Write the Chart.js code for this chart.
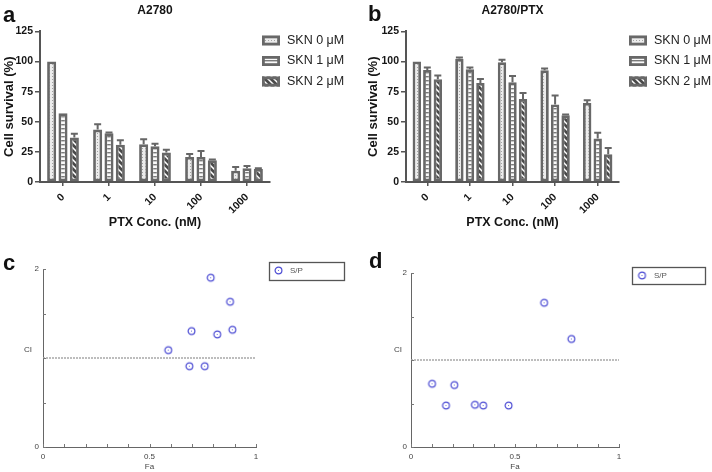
<!DOCTYPE html>
<html>
<head>
<meta charset="utf-8">
<script src="https://cdn.jsdelivr.net/npm/chart.js@4.4.1/dist/chart.umd.min.js"></script>
<style>
  body { margin: 0; background: #fff; width: 712px; height: 472px; position: relative; overflow: hidden;
         font-family: 'Liberation Sans', Arial, sans-serif; }
  canvas { position: absolute; }
  .tag { position: absolute; font-weight: bold; font-size: 22px; line-height: 22px; color: #111; }
  .ci { position: absolute; font-size: 8px; color: #444; transform: translate(-50%, -50%); }
</style>
</head>
<body>
<canvas id="ca" width="356" height="230" style="left:0;top:0"></canvas>
<canvas id="cb" width="356" height="230" style="left:356px;top:0"></canvas>
<canvas id="cc" width="356" height="242" style="left:0;top:230px"></canvas>
<canvas id="cd" width="356" height="242" style="left:356px;top:230px"></canvas>
<div class="tag" style="left:3px;top:4px">a</div>
<div class="tag" style="left:368px;top:3px">b</div>
<div class="tag" style="left:3px;top:252px">c</div>
<div class="tag" style="left:369px;top:250px">d</div>
<div class="ci" style="left:28px;top:349px">CI</div>
<div class="ci" style="left:398px;top:349px">CI</div>
<script>
// PTX concentrations (nM) and SKN doses
const conc = ['0', '1', '10', '100', '1000'];
const sknLabels = ['SKN 0 \u03bcM', 'SKN 1 \u03bcM', 'SKN 2 \u03bcM'];

// A2780 cell survival (%) and error (SD)
const a_skn0 = [100, 43.5, 31.4, 20.8, 9.4];
const a_skn1 = [57, 40.5, 29.7, 20.8, 11.4];
const a_skn2 = [37, 31, 24.4, 18, 10.8];
const a_err0 = [0, 4.4, 4.1, 2.5, 3.1];
const a_err1 = [0, 0.6, 2.0, 5.0, 1.9];
const a_err2 = [3, 3.7, 2.3, 0.6, 0.6];

// A2780/PTX cell survival (%) and error (SD)
const b_skn0 = [100, 102.2, 99.4, 92.8, 65.6];
const b_skn1 = [93, 93.6, 82.8, 64.4, 36.1];
const b_skn2 = [85.3, 82.2, 68.9, 55.3, 23];
const b_err0 = [0, 1.1, 2, 1.4, 2.2];
const b_err1 = [2, 1.4, 5.2, 7.3, 4.7];
const b_err2 = [3, 3.3, 5, 0.8, 5.3];

// combination index plots (Fa vs CI)
const c_fa = [0.588, 0.697, 0.687, 0.759, 0.787, 0.818, 0.878, 0.889];
const c_ci = [1.088, 1.302, 0.908, 0.908, 1.902, 1.265, 1.632, 1.317];
const d_fa = [0.101, 0.168, 0.208, 0.307, 0.347, 0.469, 0.640, 0.771];
const d_ci = [0.727, 0.477, 0.712, 0.485, 0.477, 0.477, 1.658, 1.242];
const ciRefFa = [0, 1];
const ciRefCi = [1, 1];

const FONT = "'Liberation Sans', Arial, sans-serif";
Chart.defaults.font.family = FONT;
Chart.defaults.animation = false;

function tile(ctx, w, h, draw) {
  const c = document.createElement('canvas');
  c.width = w; c.height = h;
  draw(c.getContext('2d'));
  return ctx.createPattern(c, 'repeat');
}

function patterns(ctx) {
  const dots = tile(ctx, 3, 3, x => {
    x.fillStyle = '#ececec'; x.fillRect(0, 0, 3, 3);
    x.fillStyle = '#a4a4a4'; x.fillRect(1, 1, 1, 1);
  });
  const lines = tile(ctx, 4, 4, x => {
    x.fillStyle = '#fafafa'; x.fillRect(0, 0, 4, 4);
    x.fillStyle = '#7a7a7a'; x.fillRect(0, 0, 4, 1);
    x.fillStyle = '#c4c4c4'; x.fillRect(0, 1, 4, 1);
  });
  const diag = tile(ctx, 6, 6, x => {
    x.fillStyle = '#fff'; x.fillRect(0, 0, 6, 6);
    x.strokeStyle = '#4a4a4a'; x.lineWidth = 2.7;
    x.beginPath();
    for (let k = -1; k <= 1; k++) { x.moveTo(k * 6 - 1, -1); x.lineTo(k * 6 + 7, 7); }
    x.stroke();
  });
  return [dots, lines, diag];
}

// error bars drawn from the dataset values through the y scale
const errorBars = {
  id: 'errorBars',
  afterDatasetsDraw(chart) {
    const ctx = chart.ctx, y = chart.scales.y;
    chart.data.datasets.forEach((ds, i) => {
      chart.getDatasetMeta(i).data.forEach((bar, j) => {
        const e = ds.errors[j];
        if (!e) return;
        const top = y.getPixelForValue(ds.data[j] + e);
        ctx.save();
        ctx.strokeStyle = '#666'; ctx.lineWidth = 2;
        ctx.beginPath();
        ctx.moveTo(bar.x, bar.y); ctx.lineTo(bar.x, top);
        ctx.moveTo(bar.x - 3.5, top); ctx.lineTo(bar.x + 3.5, top);
        ctx.stroke();
        ctx.restore();
      });
    });
  }
};

// legend at a fixed place beside the plot
const sideLegend = {
  id: 'sideLegend',
  afterDraw(chart, args, o) {
    const ctx = chart.ctx;
    ctx.save();
    if (o.box) {
      ctx.strokeStyle = '#555'; ctx.lineWidth = 1.3;
      ctx.strokeRect(o.box[0], o.box[1], o.box[2], o.box[3]);
    }
    let row = 0;
    chart.data.datasets.forEach(ds => {
      if (!ds.inLegend) return;
      const cy = o.y + row * o.step;
      if (o.kind === 'bar') {
        ctx.fillStyle = ds.backgroundColor;
        ctx.fillRect(o.x, cy - 5, 18, 10);
        ctx.strokeStyle = ds.borderColor; ctx.lineWidth = 2.8;
        ctx.strokeRect(o.x + 1.4, cy - 3.6, 15.2, 7.2);
      } else {
        ctx.drawImage(ds.pointStyle, o.x - ds.pointStyle.width / 2, cy - ds.pointStyle.height / 2);
      }
      ctx.fillStyle = o.color; ctx.font = o.font;
      ctx.textBaseline = 'middle'; ctx.textAlign = 'left';
      ctx.fillText(ds.label, o.tx, cy);
      row++;
    });
    ctx.restore();
  }
};

function barChart(id, title, vals, errs, lay) {
  const ctx = document.getElementById(id).getContext('2d');
  const pats = patterns(ctx);
  const axis = '#555', txt = '#151515';
  return new Chart(ctx, {
    type: 'bar',
    data: {
      labels: conc,
      datasets: vals.map((v, i) => ({
        label: sknLabels[i],
        data: v,
        errors: errs[i],
        inLegend: true,
        backgroundColor: pats[i],
        borderColor: '#686868',
        borderWidth: 2.8,
        borderSkipped: false,
        categoryPercentage: 0.74,
        barPercentage: 0.8
      }))
    },
    plugins: [errorBars, sideLegend],
    options: {
      responsive: false,
      layout: { padding: { left: 0, top: 0, bottom: 0, right: lay.right } },
      plugins: {
        legend: { display: false },
        tooltip: { enabled: false },
        title: {
          display: true, text: title, fullSize: false, color: txt,
          font: { size: 12, weight: 'bold' }, padding: { top: 3, bottom: 14 }
        },
        sideLegend: {
          kind: 'bar', x: lay.legX, tx: lay.legX + 25, y: 40.5, step: 20.5,
          color: '#222', font: '12.5px ' + FONT
        }
      },
      scales: {
        x: {
          grid: { offset: false, drawOnChartArea: false, tickLength: 4, color: axis, lineWidth: 1.5 },
          border: { color: axis, width: 2 },
          ticks: { minRotation: 45, maxRotation: 45, autoSkip: false, color: txt,
                   font: { size: 10.5, weight: 'bold' }, padding: 5 },
          title: { display: true, text: 'PTX Conc. (nM)', color: txt,
                   font: { size: 12.5, weight: 'bold' }, padding: { top: 4, bottom: 0 } },
          afterFit: s => { s.height = 48; }
        },
        y: {
          min: 0, max: 125,
          grid: { drawOnChartArea: false, tickLength: 5, color: axis, lineWidth: 1.5 },
          border: { color: axis, width: 2 },
          ticks: { stepSize: 25, color: txt, font: { size: 10.5, weight: 'bold' }, padding: 2 },
          title: { display: true, text: 'Cell survival (%)', color: txt,
                   font: { size: 13, weight: 'bold' }, padding: { top: lay.ytp, bottom: 0 } },
          afterFit: s => { s.width = lay.left; }
        }
      }
    }
  });
}

function ringImage() {
  const c = document.createElement('canvas');
  c.width = 11; c.height = 11;
  const x = c.getContext('2d');
  x.strokeStyle = '#4e4ed4'; x.lineWidth = 1.2;
  x.beginPath(); x.arc(5.5, 5.5, 3.4, 0, Math.PI * 2); x.stroke();
  x.fillStyle = '#7070d8'; x.fillRect(5, 5, 1, 1);
  return c;
}

// small inward tick marks on both axes
const innerTicks = {
  id: 'innerTicks',
  afterDraw(chart) {
    const { ctx, chartArea: a, scales: { x, y } } = chart;
    ctx.save();
    ctx.strokeStyle = '#777'; ctx.lineWidth = 1;
    ctx.beginPath();
    x.ticks.forEach(t => {
      const px = Math.round(x.getPixelForValue(t.value)) + 0.5;
      ctx.moveTo(px, a.bottom); ctx.lineTo(px, a.bottom - 3);
    });
    y.ticks.forEach(t => {
      const py = Math.round(y.getPixelForValue(t.value)) + 0.5;
      ctx.moveTo(a.left, py); ctx.lineTo(a.left + 3, py);
    });
    ctx.stroke();
    ctx.restore();
  }
};

function ciChart(id, fa, ci, lay) {
  const ctx = document.getElementById(id).getContext('2d');
  const ring = ringImage();
  const txt = '#444';
  const near = (v, t) => Math.abs(v - t) < 1e-6;
  return new Chart(ctx, {
    type: 'scatter',
    data: {
      datasets: [
        {
          type: 'line',
          data: ciRefFa.map((f, i) => ({ x: f, y: ciRefCi[i] })),
          borderColor: '#a8a8a8', borderWidth: 1.5, borderDash: [2, 1],
          pointRadius: 0
        },
        {
          label: 'S/P', inLegend: true,
          data: fa.map((f, i) => ({ x: f, y: ci[i] })),
          pointStyle: ring, pointRadius: 4
        }
      ]
    },
    plugins: [innerTicks, sideLegend],
    options: {
      responsive: false,
      layout: { padding: { left: 0, top: lay.top, bottom: 0, right: lay.right } },
      plugins: {
        legend: { display: false },
        tooltip: { enabled: false },
        sideLegend: {
          kind: 'point', box: lay.box, x: lay.px, tx: lay.tx, y: lay.py, step: 0,
          color: '#555', font: '8px ' + FONT
        }
      },
      scales: {
        x: {
          type: 'linear', min: 0, max: 1,
          grid: { display: false, drawTicks: false },
          border: { color: '#666', width: 1 },
          ticks: { stepSize: 0.1, autoSkip: false, maxRotation: 0, color: txt, font: { size: 8 }, padding: 5,
                   callback: v => (near(v, 0) || near(v, 0.5) || near(v, 1)) ? String(v) : '' },
          title: { display: true, text: 'Fa', color: txt, font: { size: 8 }, padding: { top: 0, bottom: 0 } },
          afterFit: s => { s.height = lay.bottom; }
        },
        y: {
          min: 0, max: 2,
          grid: { display: false, drawTicks: false },
          border: { color: '#666', width: 1 },
          ticks: { stepSize: 0.5, autoSkip: false, color: txt, font: { size: 8 }, padding: 4,
                   callback: v => (near(v, 0) || near(v, 2)) ? String(v) : '' },
          afterFit: s => { s.width = lay.left; }
        }
      }
    }
  });
}

barChart('ca', 'A2780', [a_skn0, a_skn1, a_skn2], [a_err0, a_err1, a_err2],
  { left: 40, right: 86, ytp: 2, legX: 262 });
barChart('cb', 'A2780/PTX', [b_skn0, b_skn1, b_skn2], [b_err0, b_err1, b_err2],
  { left: 50, right: 93, ytp: 10, legX: 273 });
ciChart('cc', c_fa, c_ci,
  { left: 43, right: 100, top: 39, bottom: 25, box: [269.5, 32.5, 75, 18], px: 278.5, tx: 290, py: 40.5 });
ciChart('cd', d_fa, d_ci,
  { left: 55, right: 93, top: 43, bottom: 25, box: [276.5, 37.5, 73, 17], px: 286, tx: 298, py: 45.5 });
</script>
</body>
</html>
